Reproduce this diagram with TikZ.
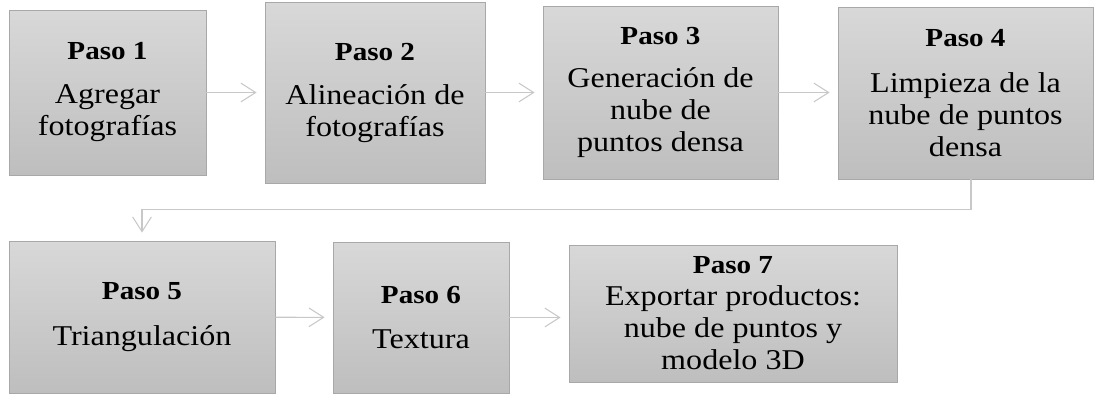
\documentclass[tikz,border=0pt]{standalone}
\usepackage{fontspec}
\setmainfont{Liberation Serif}[FakeStretch=1.12]
\usetikzlibrary{arrows.meta}
\definecolor{boxtop}{RGB}{216,216,216}
\definecolor{boxbot}{RGB}{190,190,190}
\definecolor{boxline}{RGB}{168,168,168}
\definecolor{arrline}{RGB}{200,200,200}
\newcommand{\stitle}[1]{{\fontsize{19.5}{24}\selectfont\bfseries #1}}
\tikzset{
  stepbox/.style={draw=boxline, line width=0.6pt, top color=boxtop, bottom color=boxbot,
    align=center, inner sep=0pt, font=\fontsize{21.5}{24}\selectfont, text=black},
  flow/.style={draw=arrline, line width=0.8pt, shorten >=6pt,
    -{Straight Barb[length=11pt,width=14pt,line width=0.8pt]}},
}
\begin{document}
\begin{tikzpicture}[x=0.75pt,y=-0.75pt]
\useasboundingbox (0,0) rectangle (1094,393);
\node[stepbox, minimum width=147.75pt, minimum height=123.75pt] (b1) at (107.5,92.5)
  {\stitle{Paso 1}\\[9pt]Agregar\\fotografías};
\node[stepbox, minimum width=165pt, minimum height=135.75pt] (b2) at (375,92.5)
  {\stitle{Paso 2}\\[9pt]Alineación de\\fotografías};
\node[stepbox, minimum width=176.25pt, minimum height=129.75pt] (b3) at (660.5,92.5)
  {\stitle{Paso 3}\\[8pt]Generación de\\nube de\\puntos densa};
\node[stepbox, minimum width=191.25pt, minimum height=129pt] (b4) at (965.5,93)
  {\stitle{Paso 4}\\[10pt]Limpieza de la\\nube de puntos\\densa};
\node[stepbox, minimum width=199.5pt, minimum height=114pt] (b5) at (142,317)
  {\stitle{Paso 5}\\[10pt]Triangulación};
\node[stepbox, minimum width=132pt, minimum height=113.25pt] (b6) at (421,317.5)
  {\stitle{Paso 6}\\[10pt]Textura};
\node[stepbox, minimum width=246pt, minimum height=102.75pt] (b7) at (733,313.5)
  {\stitle{Paso 7}\\[0pt]Exportar productos:\\nube de puntos y\\modelo 3D};
\draw[flow] (b1) -- (b2);
\draw[flow] (b2) -- (b3);
\draw[flow] (b3.east) -- (b3.east -| b4.west);
\coordinate (c4) at ([xshift=4.1pt]b4.south);
\draw[flow] (c4) -- ++(0,30) -| (b5.north);
\draw[flow] (b5) -- (b6);
\draw[flow] (b6.east) -- (b6.east -| b7.west);
\end{tikzpicture}
\end{document}
